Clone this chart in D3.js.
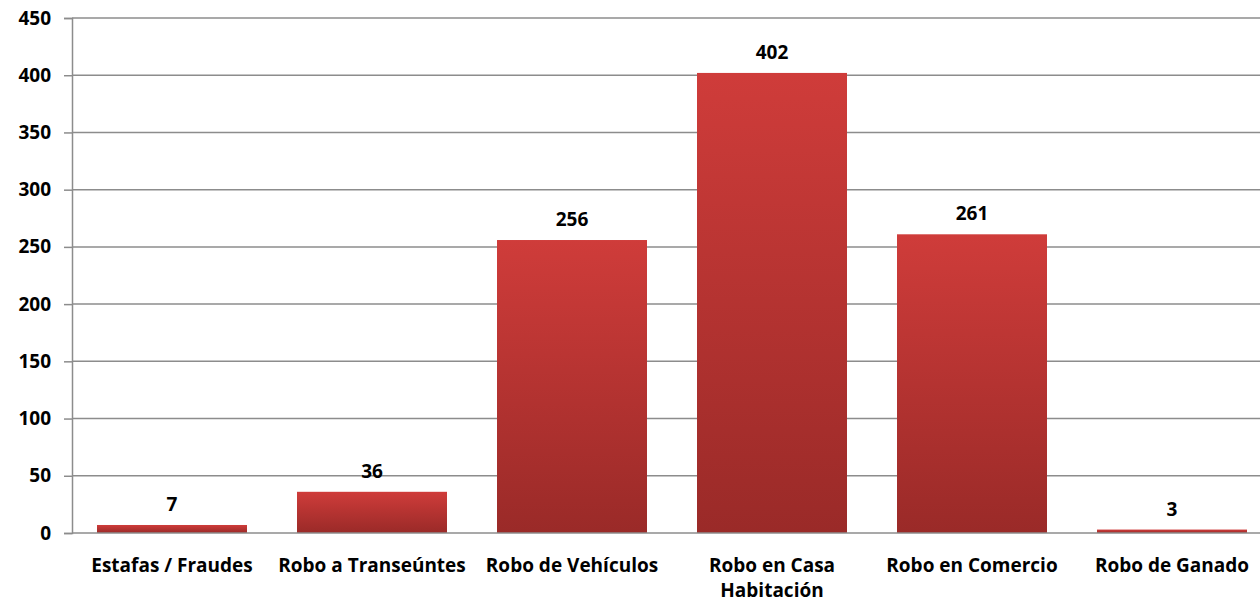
<!DOCTYPE html>
<html>
<head>
<meta charset="utf-8">
<script src="https://cdn.jsdelivr.net/npm/d3@7"></script>
<style>
  html, body { margin: 0; padding: 0; background: #fff; }
  svg { display: block; }
</style>
</head>
<body>
<div id="chart"></div>
<script>
// categories and counts
const categories = ['Estafas / Fraudes', 'Robo a Transeúntes', 'Robo de Vehículos', 'Robo en Casa Habitación', 'Robo en Comercio', 'Robo de Ganado'];
const counts = [7, 36, 256, 402, 261, 3];
const yTicks = [0, 50, 100, 150, 200, 250, 300, 350, 400, 450];

const W = 1260, H = 603;
const margin = { top: 18, bottom: 70, left: 72 };
const plotRight = 1272; // the original plot runs a bit past the right edge
const FONT = '"Open Sans", sans-serif';
const FS = 19;

const svg = d3.select('#chart').append('svg')
  .attr('width', W).attr('height', H)
  .attr('xmlns', 'http://www.w3.org/2000/svg');

const x = d3.scaleBand()
  .domain(categories)
  .range([margin.left, plotRight])
  .paddingInner(0.25).paddingOuter(0.125);

const y = d3.scaleLinear()
  .domain([0, 450])
  .range([H - margin.bottom, margin.top]);

// bar gradient, light at top -> dark at bottom
const defs = svg.append('defs');
const grad = defs.append('linearGradient').attr('id', 'barGrad')
  .attr('x1', 0).attr('y1', 0).attr('x2', 0).attr('y2', 1);
grad.append('stop').attr('offset', '0%').attr('stop-color', '#cf3c3a');
grad.append('stop').attr('offset', '100%').attr('stop-color', '#9a2a28');

// gridlines
svg.append('g')
  .selectAll('line')
  .data(yTicks.filter(d => d > 0))
  .enter().append('line')
  .attr('x1', margin.left).attr('x2', W)
  .attr('y1', d => y(d)).attr('y2', d => y(d))
  .attr('stroke', '#8c8c8c').attr('stroke-width', 1.5);

// y axis
const yAxis = svg.append('g')
  .attr('transform', `translate(${margin.left},0)`)
  .call(d3.axisLeft(y).tickValues(yTicks).tickSize(8).tickPadding(13));
yAxis.select('.domain').attr('stroke', '#8c8c8c').attr('stroke-width', 1.5);
yAxis.selectAll('.tick line').attr('stroke', '#8c8c8c').attr('stroke-width', 1.5);
yAxis.selectAll('text')
  .attr('font-family', FONT).attr('font-weight', 'bold')
  .attr('font-size', FS).attr('fill', '#000');

// bars
svg.append('g')
  .selectAll('rect')
  .data(counts)
  .enter().append('rect')
  .attr('x', (d, i) => x(categories[i]))
  .attr('width', x.bandwidth())
  .attr('y', d => y(d))
  .attr('height', d => y(0) - y(d))
  .attr('fill', 'url(#barGrad)');

// baseline (x axis)
svg.append('line')
  .attr('x1', margin.left).attr('x2', W)
  .attr('y1', y(0)).attr('y2', y(0))
  .attr('stroke', '#8c8c8c').attr('stroke-width', 1.5);

// value labels
svg.append('g')
  .selectAll('text')
  .data(counts)
  .enter().append('text')
  .attr('x', (d, i) => x(categories[i]) + x.bandwidth() / 2)
  .attr('y', d => y(d) - 14)
  .attr('text-anchor', 'middle')
  .attr('font-family', FONT).attr('font-weight', 'bold')
  .attr('font-size', FS).attr('fill', '#000')
  .text(d => d);

// category labels, wrapped to the band step
const labels = svg.append('g')
  .selectAll('text')
  .data(categories)
  .enter().append('text')
  .attr('x', d => x(d) + x.bandwidth() / 2)
  .attr('y', y(0) + 39)
  .attr('text-anchor', 'middle')
  .attr('font-family', FONT).attr('font-weight', 'bold')
  .attr('font-size', FS).attr('fill', '#000');

labels.each(function(d) {
  const t = d3.select(this);
  const words = d.split(' ');
  let line = [];
  let ts = t.append('tspan').attr('x', t.attr('x'));
  words.forEach(w => {
    line.push(w);
    ts.text(line.join(' '));
    if (ts.node().getComputedTextLength() > x.step() && line.length > 1) {
      line.pop();
      ts.text(line.join(' '));
      line = [w];
      ts = t.append('tspan').attr('x', t.attr('x')).attr('dy', 25).text(w);
    }
  });
});
</script>
</body>
</html>
